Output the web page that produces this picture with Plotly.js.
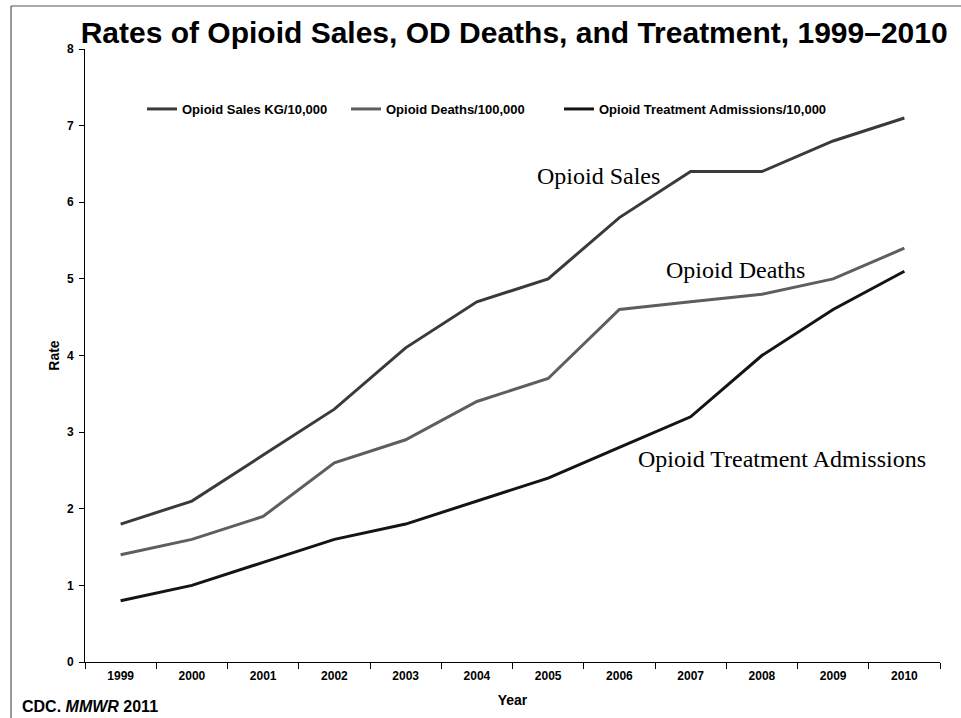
<!DOCTYPE html>
<html>
<head>
<meta charset="utf-8">
<script src="https://cdn.plot.ly/plotly-3.0.1.min.js"></script>
<style>html,body{margin:0;padding:0;background:#fff;}#chart{width:961px;height:718px;}</style>
</head>
<body>
<div id="chart"></div>
<script>
var years = ['1999','2000','2001','2002','2003','2004','2005','2006','2007','2008','2009','2010'];
var salesRate = [1.8, 2.1, 2.7, 3.3, 4.1, 4.7, 5.0, 5.8, 6.4, 6.4, 6.8, 7.1];
var deathsRate = [1.4, 1.6, 1.9, 2.6, 2.9, 3.4, 3.7, 4.6, 4.7, 4.8, 5.0, 5.4];
var treatmentRate = [0.8, 1.0, 1.3, 1.6, 1.8, 2.1, 2.4, 2.8, 3.2, 4.0, 4.6, 5.1];
var seriesNames = ['Opioid Sales KG/10,000', 'Opioid Deaths/100,000', 'Opioid Treatment Admissions/10,000'];
var seriesLabels = ['Opioid Sales', 'Opioid Deaths', 'Opioid Treatment Admissions'];
var yTicks = [0, 1, 2, 3, 4, 5, 6, 7, 8];

var sans = 'Liberation Sans, Arial, sans-serif';
var serif = 'Liberation Serif, Times New Roman, serif';

var traces = [
  {x: years, y: salesRate, name: seriesNames[0], legend: 'legend', type: 'scatter', mode: 'lines', line: {color: '#3a3a3a', width: 3}},
  {x: years, y: deathsRate, name: seriesNames[1], legend: 'legend2', type: 'scatter', mode: 'lines', line: {color: '#5e5e5e', width: 3}},
  {x: years, y: treatmentRate, name: seriesNames[2], legend: 'legend3', type: 'scatter', mode: 'lines', line: {color: '#141414', width: 3}}
];

var ml = 85, mr = 21, mt = 49, mb = 56, W = 961, H = 718;
var pw = W - ml - mr, ph = H - mt - mb;
function px(v) { return (v - ml) / pw; }
function py(v) { return (H - mb - v) / ph; }

function legendAt(sampleX) {
  return {orientation: 'h', x: px(sampleX - 6), xanchor: 'left', y: py(109), yanchor: 'middle',
    font: {family: sans, size: 13, color: '#000', weight: 'bold'}, bgcolor: 'rgba(0,0,0,0)'};
}

var layout = {
  width: W, height: H,
  margin: {l: ml, r: mr, t: mt, b: mb},
  paper_bgcolor: '#fff', plot_bgcolor: '#fff',
  title: {text: '<b>Rates of Opioid Sales, OD Deaths, and Treatment, 1999\u20132010</b>', font: {family: sans, size: 30, color: '#000'}, x: 0.535, xanchor: 'center', y: 0.955, yanchor: 'middle'},
  showlegend: true,
  legend: legendAt(148),
  legend2: legendAt(352),
  legend3: legendAt(565),
  xaxis: {
    type: 'category', tickmode: 'array', tickvals: years, ticktext: years.map(function(y){return '<b>'+y+'</b>';}),
    tickson: 'boundaries', ticks: 'outside', ticklen: 6, tickcolor: '#000', ticklabelstandoff: 3,
    showline: true, linecolor: '#000', linewidth: 1, showgrid: false, zeroline: false,
    tickfont: {family: sans, size: 12, color: '#000'},
    title: {text: '<b>Year</b>', font: {family: sans, size: 14, color: '#000'}, standoff: 12},
    range: [-0.5, 11.5], fixedrange: true
  },
  yaxis: {
    range: [0, 8], tickmode: 'array', tickvals: yTicks, ticktext: yTicks.map(function(v){return '<b>'+v+'</b>';}),
    ticks: 'outside', ticklen: 5, tickcolor: '#000', ticklabelstandoff: 3,
    showline: true, linecolor: '#000', linewidth: 1, showgrid: false, zeroline: false,
    tickfont: {family: sans, size: 12, color: '#000'},
    title: {text: '<b>Rate</b>', font: {family: sans, size: 14, color: '#000'}, standoff: 4}
  },
  annotations: [
    {text: seriesLabels[0], x: 6.70, y: 6.34, xref: 'x', yref: 'y', showarrow: false, font: {family: serif, size: 24, color: '#000'}, xanchor: 'center', yanchor: 'middle'},
    {text: seriesLabels[1], x: 8.63, y: 5.12, xref: 'x', yref: 'y', showarrow: false, font: {family: serif, size: 24, color: '#000'}, xanchor: 'center', yanchor: 'middle'},
    {text: seriesLabels[2], x: 9.28, y: 2.655, xref: 'x', yref: 'y', showarrow: false, font: {family: serif, size: 24, color: '#000'}, xanchor: 'center', yanchor: 'middle'},
    {text: '<b>CDC. <i>MMWR</i> 2011</b>', x: px(20), y: py(706), xref: 'paper', yref: 'paper', showarrow: false, font: {family: sans, size: 16, color: '#000'}, xanchor: 'left', yanchor: 'middle'}
  ],
  shapes: [
    {type: 'line', xref: 'paper', yref: 'paper', x0: px(11), x1: 1.2, y0: py(6), y1: py(6), line: {color: '#555', width: 1.2}},
    {type: 'line', xref: 'paper', yref: 'paper', x0: px(11), x1: px(11), y0: -0.2, y1: py(6), line: {color: '#555', width: 1.2}}
  ]
};

Plotly.newPlot('chart', traces, layout, {displayModeBar: false, staticPlot: true});
</script>
</body>
</html>
